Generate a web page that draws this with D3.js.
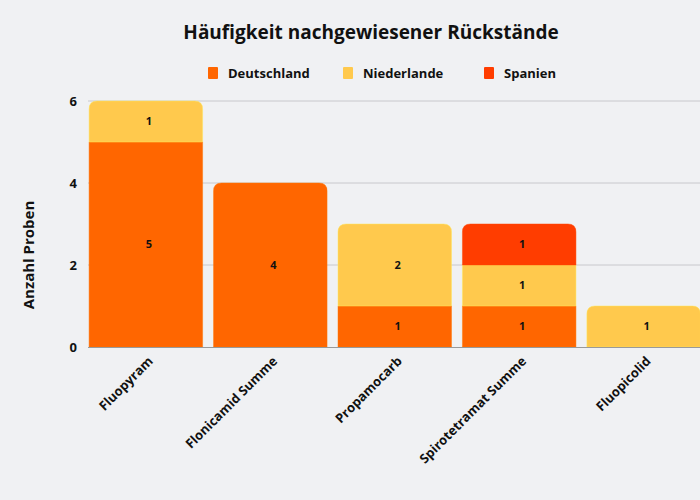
<!DOCTYPE html>
<html><head><meta charset="utf-8">
<script src="https://cdn.jsdelivr.net/npm/d3@7"></script>
<style>body{margin:0;background:#f0f1f3;} svg{display:block;font-family:"Open Sans",sans-serif;}</style>
</head><body>
<script>
const categories = ["Fluopyram","Flonicamid Summe","Propamocarb","Spirotetramat Summe","Fluopicolid"];
const seriesNames = ["Deutschland","Niederlande","Spanien"];
const deutschland = [5,4,1,1,0];
const niederlande = [1,0,2,1,1];
const spanien = [0,0,0,1,0];
const yTicks = [0,2,4,6];
const colors = ["#ff6600","#ffc94d","#ff3d00"];
const title = "Häufigkeit nachgewiesener Rückstände";
const yTitle = "Anzahl Proben";

const W=700,H=500;
const svg=d3.select("body").append("svg").attr("width",W).attr("height",H);
svg.append("rect").attr("width",W).attr("height",H).attr("fill","#f0f1f3");

const rows = categories.map((c,i)=>({cat:c, Deutschland:deutschland[i], Niederlande:niederlande[i], Spanien:spanien[i]}));
const stack = d3.stack().keys(seriesNames)(rows);

const x = d3.scaleBand().domain(categories).range([83.5,706]).paddingInner(0.088).paddingOuter(0.045);
const y = d3.scaleLinear().domain([0,6]).range([347,101]);

// grid
svg.append("g").selectAll("line").data(yTicks.filter(d=>d>0)).join("line")
  .attr("x1",88).attr("x2",700).attr("y1",d=>y(d)).attr("y2",d=>y(d))
  .attr("stroke","#c8c8cc").attr("stroke-width",1);

// y tick labels
svg.append("g").selectAll("text").data(yTicks).join("text")
  .attr("x",77).attr("y",d=>y(d)).attr("dy","0.35em").attr("text-anchor","end")
  .attr("font-size",13).attr("font-weight",700).attr("fill","#111").text(d=>d);

// top segment per category
const topIdx = categories.map((c,i)=>{let t=-1; stack.forEach((s,k)=>{if(s[i][1]-s[i][0]>0)t=k;}); return t;});
const r=8;
function segPath(x0,x1,y0,y1,round){
  if(!round) return `M${x0},${y0}V${y1}H${x1}V${y0}Z`;
  return `M${x0},${y0}V${y1+r}Q${x0},${y1} ${x0+r},${y1}H${x1-r}Q${x1},${y1} ${x1},${y1+r}V${y0}Z`;
}
stack.forEach((s,k)=>{
  svg.append("g").selectAll("path").data(s.map((d,i)=>({d,i})).filter(o=>o.d[1]-o.d[0]>0)).join("path")
    .attr("d",o=>segPath(x(categories[o.i]),x(categories[o.i])+x.bandwidth(),y(o.d[0]),y(o.d[1]),topIdx[o.i]===k))
    .attr("fill",colors[k]).attr("stroke",d3.color(colors[k]).brighter(0.4)).attr("stroke-opacity",0.6).attr("stroke-width",0.8);
});
// labels
stack.forEach((s,k)=>{
  svg.append("g").selectAll("text").data(s.map((d,i)=>({d,i})).filter(o=>o.d[1]-o.d[0]>0)).join("text")
    .attr("x",o=>x(categories[o.i])+x.bandwidth()/2+3).attr("y",o=>y((o.d[0]+o.d[1])/2)).attr("dy","0.35em")
    .attr("text-anchor","middle").attr("font-size",11).attr("font-weight",700).attr("fill","#111")
    .text(o=>o.d[1]-o.d[0]);
});

// x axis line
svg.append("line").attr("x1",88).attr("x2",700).attr("y1",347.5).attr("y2",347.5).attr("stroke","#999").attr("stroke-width",1.2);

// x labels
svg.append("g").selectAll("text").data(categories).join("text")
  .attr("transform",d=>`translate(${x(d)+x.bandwidth()/2+8},${362}) rotate(-45)`)
  .attr("text-anchor","end").attr("font-size",13).attr("font-weight",700).attr("fill","#111").text(d=>d);

// y title
svg.append("text").attr("transform","translate(34,255) rotate(-90)").attr("text-anchor","middle")
  .attr("font-size",15).attr("font-weight",700).attr("fill","#111").text(yTitle);

// title
svg.append("text").attr("x",371).attr("y",39).attr("text-anchor","middle")
  .attr("font-size",19).attr("font-weight",700).attr("fill","#111").text(title);

// legend
const legX=[208,343,484];
const lg=svg.append("g").selectAll("g").data(seriesNames).join("g").attr("transform",(d,i)=>`translate(${legX[i]},73)`);
lg.append("rect").attr("x",0).attr("y",-6).attr("width",10).attr("height",12).attr("rx",1).attr("fill",(d,i)=>colors[i]);
lg.append("text").attr("x",20).attr("dy","0.35em").attr("font-size",13).attr("font-weight",700).attr("fill","#111").text(d=>d);
</script>
</body></html>
